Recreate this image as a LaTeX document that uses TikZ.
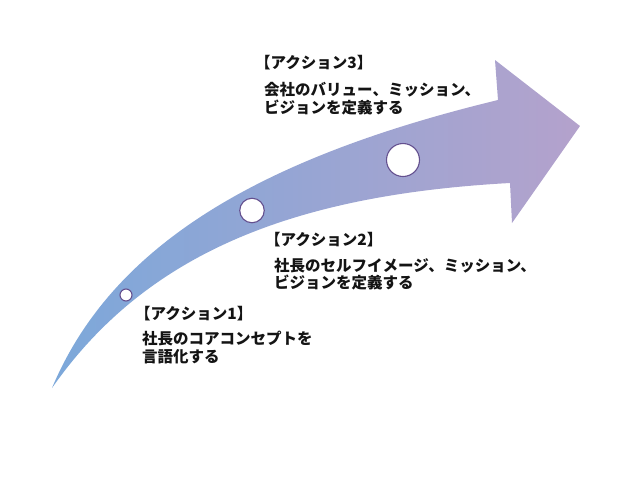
\documentclass[tikz,border=0pt]{standalone}
\usepackage{fontspec}
\setmainfont{Noto Sans CJK JP}
\definecolor{arrowL}{RGB}{124,168,218}
\definecolor{arrowR}{RGB}{180,162,204}
\definecolor{ringc}{RGB}{100,80,143}
\definecolor{txt}{RGB}{20,20,20}
\begin{document}
\begin{tikzpicture}[x=1pt,y=-1pt,
  ring/.style={circle,draw=ringc,fill=white,line width=1.1pt,inner sep=0pt},
  headtxt/.style={anchor=base west,inner sep=0pt,font=\fontsize{15.5}{17.8}\selectfont\bfseries,text=txt},
  bodytxt/.style={anchor=base west,inner sep=0pt,align=left,font=\fontsize{15.5}{17.8}\selectfont\bfseries,text=txt}]
\useasboundingbox (0,0) rectangle (640,480);
\shade[left color=arrowL,right color=arrowR]
  (52,388) .. controls (110,250) and (250,160) .. (498,100)
  -- (495,60) -- (580,126) -- (512,223) -- (510,183)
  .. controls (290,195) and (145,255) .. (52,388) -- cycle;
\node[ring,minimum size=12pt] (c1) at (126,295) {};
\node[ring,minimum size=24.5pt] (c2) at (252,210.5) {};
\node[ring,minimum size=33pt] (c3) at (403,160) {};
\node[headtxt] (h3) at (255,68.9) {【アクション3】};
\node[bodytxt] (b3) at (264,113.5) {会社のバリュー、ミッション、\\ビジョンを定義する};
\node[headtxt] (h2) at (265,245.9) {【アクション2】};
\node[bodytxt] (b2) at (274,288.9) {社長のセルフイメージ、ミッション、\\ビジョンを定義する};
\node[headtxt] (h1) at (135,319.9) {【アクション1】};
\node[bodytxt] (b1) at (142,362.5) {社長のコアコンセプトを\\言語化する};
\end{tikzpicture}
\end{document}
